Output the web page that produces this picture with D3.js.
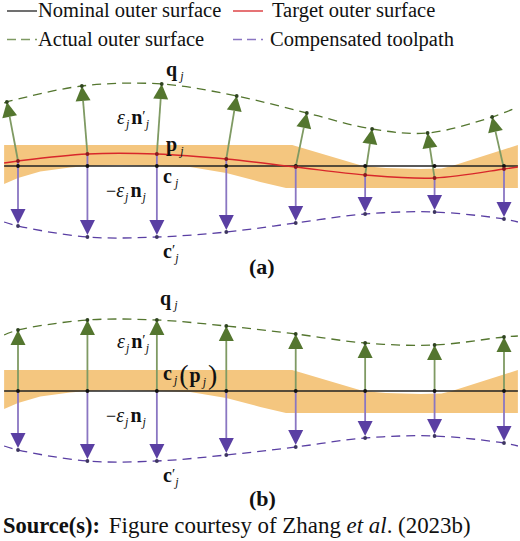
<!DOCTYPE html>
<html>
<head>
<meta charset="utf-8">
<style>
  html, body { margin: 0; padding: 0; background: #fff; }
  svg { display: block; }
  text { font-family: "Liberation Serif", serif; fill: #111; }
</style>
</head>
<body>
<svg id="chart" width="520" height="541"></svg>
<script src="https://cdn.jsdelivr.net/npm/d3@7"></script>
<script>
// Stations along the surface, and the ends of the drawn curves
const stations = [0, 1, 2, 3, 4, 5, 6, 7];
const curveEnds = [-0.2, 7.2];

// Heights above the nominal surface, one per station
const targetA = [5, 12, 12, 7, -1, -9, -12, -3];
const targetEndsA = [3, -1];
const actualA = [64, 80, 82, 70, 53, 37, 33, 49];
const actualStationsA = [-0.16, 0.92, 2.07, 3.15, 4.16, 5.1, 5.9, 6.83];
const actualEndsA = [63, 59];
const compA = [-60, -71, -71, -66, -57, -48, -46, -53];
const compEndsA = [-56, -56];

const actualB = [61, 71, 71, 65, 57, 48, 46, 54];
const actualEndsB = [56, 55];
const compB = [-59, -70, -70, -64, -56, -47, -45, -52];
const compEndsB = [-55, -55];

// Tolerance band, same in both panels
const bandUpperS = [-0.2, 3.95, 4.97, 5.3, 5.8, 6.1, 6.25, 7.2];
const bandUpperV = [21, 21, 0, -2, -3, -2.5, 0, 21];
const bandLowerS = [-0.2, 0, 0.32, 0.75, 1, 1.47, 2, 2.48, 3, 3.49, 3.86, 7.2];
const bandLowerV = [-18, -12, -5.5, -1.5, 0, 1, 0, -1, -7, -16, -22, -22];

const legendNames = ["Nominal outer surface", "Target outer surface", "Actual outer surface", "Compensated toolpath"];

const svg = d3.select("#chart");
const x = d3.scaleLinear().domain([0, 7]).range([18, 504]);

const colors = {
  band: "#f4c67f", nominal: "#222", target: "#d8272b",
  green: "#54762f", greenShaft: "#7f9a63", purple: "#5a3fa3", purpleShaft: "#8a76c2"
};

function withEnds(s, v, ends) {
  const pts = s.map((d, i) => [d, v[i]]);
  return [[curveEnds[0], ends[0]], ...pts, [curveEnds[1], ends[1]]];
}

function arrow(g, from, to, shaft, head) {
  const dx = to[0] - from[0], dy = to[1] - from[1];
  const len = Math.hypot(dx, dy);
  const ux = dx / len, uy = dy / len;
  const bx = to[0] - ux * 15, by = to[1] - uy * 15;
  g.append("line")
    .attr("x1", from[0]).attr("y1", from[1]).attr("x2", bx).attr("y2", by)
    .attr("stroke", shaft).attr("stroke-width", 1.8);
  g.append("path")
    .attr("d", d3.line()([to, [bx - uy * 7.5, by + ux * 7.5], [bx + uy * 7.5, by - ux * 7.5]]) + "Z")
    .attr("fill", head);
}

function drawPanel(p) {
  const y = d3.scaleLinear().domain([-100, 100]).range([p.nominal + 100, p.nominal - 100]);
  const g = svg.append("g");
  const curve = d3.line().x(d => x(d[0])).y(d => y(d[1])).curve(d3.curveCatmullRom);

  // band
  const bandPath = d3.line().x(d => x(d[0])).y(d => y(d[1]));
  const upper = bandUpperS.map((s, i) => [s, bandUpperV[i]]);
  const lower = bandLowerS.map((s, i) => [s, bandLowerV[i]]).reverse();
  g.append("path").attr("d", bandPath(upper.concat(lower)) + "Z").attr("fill", colors.band);

  const baseV = p.target || stations.map(() => 0);

  // arrows up to the actual surface
  stations.forEach((s, i) => {
    const tipS = p.actualS ? p.actualS[i] : s;
    arrow(g, [x(s), y(baseV[i])], [x(tipS), y(p.actual[i])], colors.greenShaft, colors.green);
    arrow(g, [x(s), y(baseV[i])], [x(s), y(p.comp[i] + 2)], colors.purpleShaft, colors.purple);
  });

  // nominal
  g.append("line")
    .attr("x1", x(curveEnds[0])).attr("x2", x(curveEnds[1]))
    .attr("y1", y(0)).attr("y2", y(0))
    .attr("stroke", colors.nominal).attr("stroke-width", 1.3);

  if (p.target) {
    g.append("path")
      .attr("d", curve(withEnds(stations, p.target, targetEndsA)))
      .attr("fill", "none").attr("stroke", colors.target).attr("stroke-width", 1.4);
  }

  g.append("path")
    .attr("d", curve(withEnds(p.actualS || stations, p.actual, p.actualEnds)))
    .attr("fill", "none").attr("stroke", colors.green).attr("stroke-width", 1.3).attr("stroke-dasharray", "9 6");
  g.append("path")
    .attr("d", curve(withEnds(stations, p.comp, p.compEnds)))
    .attr("fill", "none").attr("stroke", colors.purple).attr("stroke-width", 1.3).attr("stroke-dasharray", "9 6");

  // dots
  const dot = (cx, cy, fill) => g.append("circle").attr("cx", cx).attr("cy", cy).attr("r", 1.9).attr("fill", fill);
  stations.forEach((s, i) => {
    dot(x(s), y(0), "#111");
    if (p.target) dot(x(s), y(p.target[i]), "#8c1a1f");
    dot(x(p.actualS ? p.actualS[i] : s), y(p.actual[i]), "#2f4420");
    dot(x(s), y(p.comp[i]), "#3d3560");
  });
}

// one label made of runs
function mathLabel(px, py, runs) {
  const t = svg.append("text").attr("x", px).attr("y", py);
  runs.forEach(r => {
    t.append("tspan")
      .text(r.t)
      .attr("dy", r.dy || 0)
      .attr("dx", r.dx || 0)
      .attr("font-weight", r.b ? "bold" : "normal")
      .attr("font-style", r.i ? "italic" : "normal")
      .attr("font-size", r.s || 20);
  });
}

const sub = (dy, dx) => ({ t: "j", i: true, s: 12, dy: dy, dx: dx || 0 });

function epsLabel(px, py) {
  mathLabel(px, py, [{ t: "\u03b5", i: true, s: 20 }, sub(4, 1), { t: "n", b: true, dy: -4, dx: 2 }, { t: "\u2032", s: 15, dy: -3 }, sub(7)]);
}
function negEpsLabel(px, py) {
  mathLabel(px, py, [{ t: "\u2212", s: 18 }, { t: "\u03b5", i: true, s: 20 }, sub(4, 1), { t: "n", b: true, dy: -4, dx: 2 }, sub(4, 1)]);
}
function boldLabel(px, py, ch) {
  mathLabel(px, py, [{ t: ch, b: true }, sub(4, 3)]);
}
function primeLabel(px, py) {
  mathLabel(px, py, [{ t: "c", b: true }, { t: "\u2032", s: 15, dy: -3 }, sub(7)]);
}

drawPanel({ nominal: 166, target: targetA, actual: actualA, actualS: actualStationsA, actualEnds: actualEndsA, comp: compA, compEnds: compEndsA });
drawPanel({ nominal: 391, actual: actualB, actualEnds: actualEndsB, comp: compB, compEnds: compEndsB });

// panel (a) labels
boldLabel(166, 76, "q");
epsLabel(117, 124);
boldLabel(166, 151, "p");
boldLabel(163, 183, "c");
negEpsLabel(106, 197);
primeLabel(163, 258);
svg.append("text").attr("x", 249).attr("y", 274).attr("font-weight", "bold").attr("font-size", 22).text("(a)");

// panel (b) labels
boldLabel(160, 305, "q");
epsLabel(117, 348);
mathLabel(163, 380, [{ t: "c", b: true }, sub(4, 2), { t: "(", s: 28, dy: 0, dx: 2 }, { t: "p", b: true, dy: -2, dx: 1 }, sub(4, 2), { t: ")", s: 28, dy: -2, dx: 2 }]);
negEpsLabel(106, 422);
primeLabel(163, 482);
svg.append("text").attr("x", 249).attr("y", 506).attr("font-weight", "bold").attr("font-size", 22).text("(b)");

// legend
const legendX = [38, 272, 38, 270];
const legendBase = [17, 17, 46, 46];
const legendLineX = [7, 233, 7, 233];
const legendLineY = [11, 11, 39.5, 39.5];
const legendColor = [colors.nominal, colors.target, colors.greenShaft, colors.purpleShaft];
const legendDash = [null, null, "9 5", "9 5"];
legendNames.forEach((name, i) => {
  svg.append("line")
    .attr("x1", legendLineX[i]).attr("x2", legendLineX[i] + 30)
    .attr("y1", legendLineY[i]).attr("y2", legendLineY[i])
    .attr("stroke", legendColor[i]).attr("stroke-width", 1.3)
    .attr("stroke-dasharray", legendDash[i]);
  svg.append("text")
    .attr("x", legendX[i]).attr("y", legendBase[i])
    .attr("font-size", 20.5)
    .text(name);
});

// source line
const src = svg.append("text").attr("x", 3).attr("y", 533).attr("font-size", 22.9);
src.append("tspan").attr("font-weight", "bold").attr("font-size", 22.5).text("Source(s):");
src.append("tspan").attr("dx", 3).text(" Figure courtesy of Zhang ");
src.append("tspan").attr("font-style", "italic").text("et al");
src.append("tspan").text(". (2023b)");
</script>
</body>
</html>
